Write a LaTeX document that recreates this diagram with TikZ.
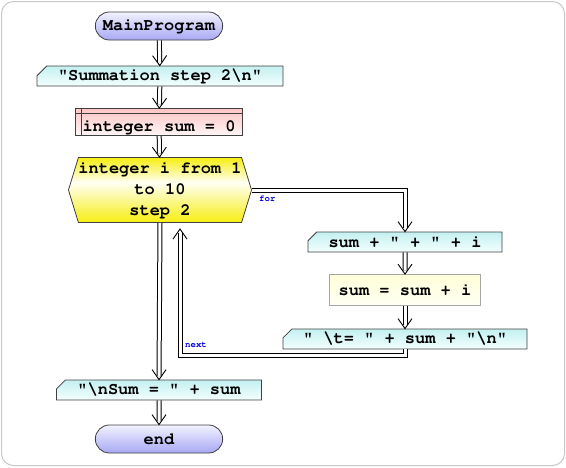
\documentclass[tikz,border=0pt]{standalone}
\usepackage{xcolor}
\definecolor{termTop}{HTML}{F2F2FF}
\definecolor{termBottom}{HTML}{A8A8F4}
\definecolor{ioTop}{HTML}{C4F0F0}
\definecolor{ioBottom}{HTML}{F4FFFF}
\definecolor{declTop}{HTML}{FFC4C4}
\definecolor{declBottom}{HTML}{FFF6F6}
\definecolor{loopYellow}{HTML}{F6EE10}
\definecolor{loopLight}{HTML}{FFFFF4}
\definecolor{procTop}{HTML}{FFFFD8}
\definecolor{procBottom}{HTML}{FFFFF4}
\definecolor{edgeGray}{HTML}{404040}
\definecolor{frameGray}{HTML}{C8C8C8}
\definecolor{labelBlue}{HTML}{0000E0}
\usetikzlibrary{arrows.meta, shapes.misc, shapes.symbols}
\pgfdeclareverticalshading{loopshade}{100bp}{
	color(0bp)=(loopYellow); color(25bp)=(loopYellow);
	color(56bp)=(loopLight);
	color(75bp)=(loopYellow); color(100bp)=(loopYellow)}
\newcommand{\codefont}{\fontencoding{T1}\fontfamily{pcr}\fontseries{b}\selectfont}
% open V head for the flow lines
\pgfdeclarearrow{
	name = FlowHead,
	defaults = { length = 10pt, width = 14pt },
	parameters = { \the\pgfarrowlength,\the\pgfarrowwidth },
	setup code = {
		\pgfarrowssettipend{0pt}
		\pgfarrowssetlineend{-3.6pt}
		\pgfarrowssetbackend{-\pgfarrowlength}
		\pgfarrowssetvisualbackend{-\pgfarrowlength}
		\pgfarrowssavethe\pgfarrowlength
		\pgfarrowssavethe\pgfarrowwidth
	},
	drawing code = {
		\pgfsetlinewidth{0.9pt}
		\pgfsetmiterjoin
		\pgfpathmoveto{\pgfqpoint{-\pgfarrowlength}{.5\pgfarrowwidth}}
		\pgfpathlineto{\pgfqpoint{0pt}{0pt}}
		\pgfpathlineto{\pgfqpoint{-\pgfarrowlength}{-.5\pgfarrowwidth}}
		\pgfusepathqstroke
	}
}
% same line end, nothing drawn (for the white inner line)
\pgfdeclarearrow{
	name = FlowGap,
	setup code = {
		\pgfarrowssettipend{0pt}
		\pgfarrowssetlineend{-3.6pt}
		\pgfarrowssetbackend{-10pt}
	},
	drawing code = {}
}

\begin{document}
\begin{tikzpicture}[
		x=1pt, y=-1pt,
		font=\codefont\fontsize{17}{21}\selectfont,
		terminal/.style={
			rounded rectangle,
			draw=edgeGray,
			line width=0.8pt,
			minimum width=134,
			minimum height=28,
			top color=termTop,
			bottom color=termBottom
		},
		iobox/.style={
			chamfered rectangle,
			chamfered rectangle corners=north west,
			chamfered rectangle xsep=7pt,
			draw=edgeGray,
			line width=0.8pt,
			inner sep=0pt,
			minimum height=20,
			top color=ioTop,
			bottom color=ioBottom
		},
		declbox/.style={
			rectangle,
			draw=edgeGray,
			line width=0.8pt,
			inner ysep=0pt,
			text height=20pt,
			text depth=2pt,
			minimum width=167,
			minimum height=27,
			top color=declTop,
			bottom color=declBottom,
			path picture={
				\draw[edgeGray, line width=0.6pt]
					([yshift=-5pt]path picture bounding box.north west) --
					([yshift=-5pt]path picture bounding box.north east);
				\draw[edgeGray, line width=0.6pt]
					([xshift=6pt]path picture bounding box.north west) --
					([xshift=6pt]path picture bounding box.south west);
			}
		},
		loopbox/.style={
			signal,
			signal to=east and west,
			signal pointer angle=146,
			draw=edgeGray,
			line width=0.8pt,
			inner sep=0pt,
			minimum width=180,
			minimum height=65,
			align=center,
			shading=loopshade
		},
		procbox/.style={
			rectangle,
			draw=gray!70,
			line width=0.8pt,
			minimum width=151,
			minimum height=31,
			top color=procTop,
			bottom color=procBottom
		},
		flow/.style={
			draw=black,
			line width=5pt,
			-{FlowHead},
			postaction={draw=white, line width=3pt, -{FlowGap}}
		},
		tag/.style={
			font=\codefont\fontsize{9}{10}\selectfont,
			text=labelBlue,
			inner sep=0pt
		}
		]
		
		% frame and page size
		\useasboundingbox (0,0) rectangle (566,467);
		\draw[frameGray, line width=1pt, rounded corners=12pt] (1.5,1.5) rectangle (564.5,465.5);
		
		\node[terminal] (main) at (159,26) {MainProgram};
		\node[iobox, minimum width=246] (title) at (160,76) {"Summation step 2\textbackslash n"};
		\node[declbox] (init) at (159,122) {integer sum = 0};
		\node[loopbox] (loop) at (160,190) {integer i from 1\\to 10\\step 2};
		\node[iobox, minimum width=194] (show) at (405,242) {sum + " + " + i};
		\node[procbox] (add) at (405,290) {sum = sum + i};
		\node[iobox, minimum width=244] (tab) at (405,339) {" \textbackslash t= " + sum + "\textbackslash n"};
		\node[iobox, minimum width=205] (result) at (159,390) {"\textbackslash nSum = " + sum};
		\node[terminal] (stop) at (159,439) {end};
		
		\coordinate (nextcorner) at (180,355);
		\coordinate (nextend) at (180,229);
		
		\draw[flow] (main) -- (title);
		\draw[flow] (title) -- (init);
		\draw[flow] (init) -- (loop);
		\draw[flow] (loop.east) -| (show.north);
		\draw[flow] (show) -- (add);
		\draw[flow] (add) -- (tab);
		\draw[flow] (tab.south) |- (nextcorner) -- (nextend);
		\draw[flow] (loop.south) -- (result.north);
		\draw[flow] (result) -- (stop);
		
		\node[tag, anchor=west] (forlbl) at (259,199) {for};
		\node[tag, anchor=west] (nextlbl) at (185,345) {next};
		
	\end{tikzpicture}
\end{document}
